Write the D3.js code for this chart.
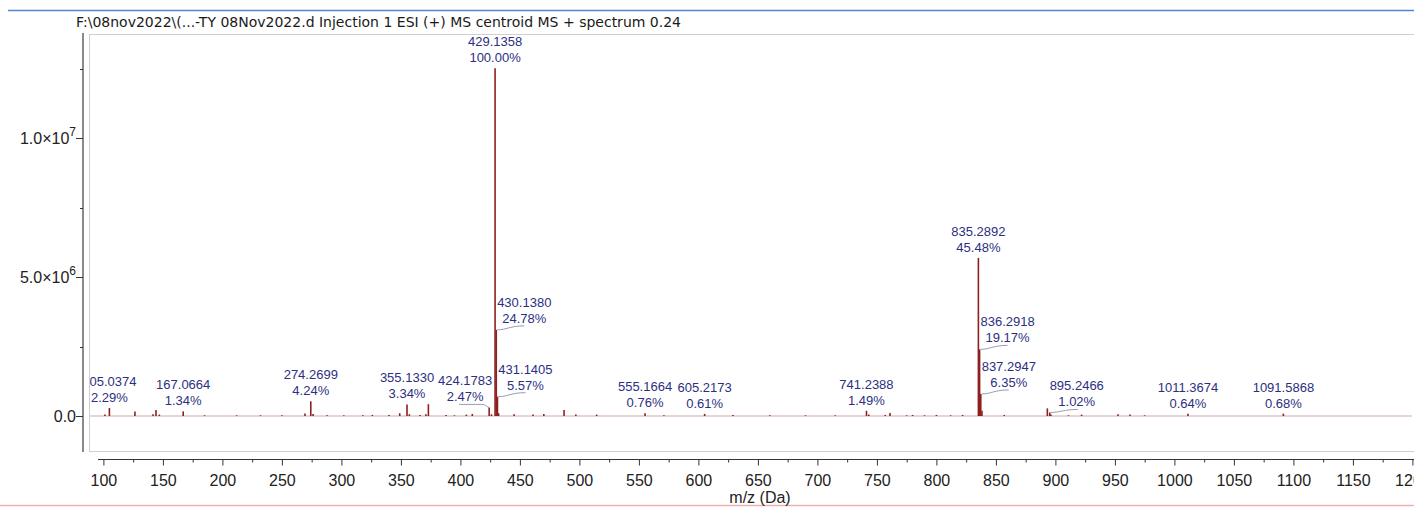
<!DOCTYPE html>
<html>
<head>
<meta charset="utf-8">
<script src="https://cdn.jsdelivr.net/npm/d3@7/dist/d3.min.js"></script>
<style>
  html, body { margin: 0; padding: 0; background: #fff; }
  svg { display: block; font-family: "Liberation Sans", Arial, sans-serif; }
</style>
</head>
<body>
<svg id="chart" width="1414" height="508"></svg>
<script>
// ---------------- data ----------------
const titleText = "F:\\08nov2022\\(...-TY 08Nov2022.d Injection 1 ESI (+) MS centroid MS + spectrum 0.24";
const xLabel = "m/z (Da)";
const basePeakIntensity = 1.252e7;

// all centroid peaks: m/z and relative abundance (% of base peak)
const peakMz = [101.3, 105.0374, 126.5, 141.7, 144.2, 147.0, 167.0664, 185.0, 212.0, 232.0, 250.0,
  269.4, 274.2699, 276.2, 288.0, 302.0, 318.0, 326.0, 340.0, 349.0, 355.1330, 357.1, 366.0, 371.0,
  373.1, 388.0, 395.0, 405.0, 410.0, 424.1783, 426.1, 429.1358, 430.1380, 431.1405, 432.1, 445.1,
  461.0, 470.1, 487.1, 497.0, 514.5, 555.1664, 571.0, 605.2173, 629.0, 660.0, 690.0, 715.0,
  741.2388, 743.2, 757.0, 761.0, 775.0, 780.0, 790.0, 800.0, 812.0, 822.0, 835.2892, 836.2918,
  837.2947, 838.3, 857.0, 893.24, 895.2466, 896.2, 911.0, 922.0, 952.6, 962.7, 975.0,
  1011.3674, 1091.5868];
const peakPct = [0.4, 2.29, 1.3, 0.5, 1.7, 0.4, 1.34, 0.2, 0.2, 0.2, 0.2,
  0.7, 4.24, 0.6, 0.2, 0.2, 0.2, 0.3, 0.3, 0.8, 3.34, 0.5, 0.3, 0.5,
  3.4, 0.3, 0.2, 0.4, 0.6, 2.47, 0.5, 100.0, 24.78, 5.57, 0.8, 0.5,
  0.4, 0.6, 1.7, 0.4, 0.4, 0.76, 0.2, 0.61, 0.3, 0.2, 0.2, 0.2,
  1.49, 0.4, 0.3, 0.9, 0.2, 0.3, 0.2, 0.3, 0.2, 0.3, 45.48, 19.17,
  6.35, 1.5, 0.3, 2.2, 1.02, 0.4, 0.2, 0.4, 0.5, 0.4, 0.2,
  0.64, 0.68];

// annotated peaks
const labelMz = ["105.0374", "167.0664", "274.2699", "355.1330", "424.1783", "429.1358", "430.1380",
  "431.1405", "555.1664", "605.2173", "741.2388", "835.2892", "836.2918", "837.2947", "895.2466",
  "1011.3674", "1091.5868"];
const labelPct = ["2.29%", "1.34%", "4.24%", "3.34%", "2.47%", "100.00%", "24.78%",
  "5.57%", "0.76%", "0.61%", "1.49%", "45.48%", "19.17%", "6.35%", "1.02%",
  "0.64%", "0.68%"];

const xTickValues = d3.range(100, 1201, 50);
const xMinorTickValues = d3.range(125, 1201, 50);
const yTickValues = [0, 5e6, 1e7];
const yTickMantissa = ["0.0", "5.0", "1.0"];
const yTickExponent = ["", "6", "7"];
const yMinorTickValues = [2.5e6, 7.5e6, 1.25e7];

// ---------------- layout (not data) ----------------
const plot = { left: 89, top: 34, right: 1420, bottom: 451 };
const labelNudge = { "424.1783": -24, "895.2466": 27 };   // horizontal shifts for crowded labels
const sideLabels = new Set(["430.1380", "431.1405", "836.2918", "837.2947"]); // isotope labels drawn at right of bar

const svg = d3.select("#chart");

const x = d3.scaleLinear().domain([100, 1200]).range([103.4, 1412.4]);
const y = d3.scaleLinear().domain([-1.26e6, 1.3756e7]).range([451, 34]);

// top blue rule & bottom red rule
svg.append("line").attr("x1", 8).attr("x2", 1414).attr("y1", 10.5).attr("y2", 10.5)
  .attr("stroke", "#4f86d6").attr("stroke-width", 1.5);
svg.append("line").attr("x1", 0).attr("x2", 1414).attr("y1", 505.5).attr("y2", 505.5)
  .attr("stroke", "#eeb0b0").attr("stroke-width", 1.5);

// title
svg.append("text").attr("x", 76).attr("y", 27).attr("font-size", 14).attr("fill", "#1a1a1a")
  .style("font-family", "'DejaVu Sans', Verdana, sans-serif")
  .text(titleText);

// plot frame
svg.append("rect").attr("x", plot.left + 0.5).attr("y", plot.top + 0.5)
  .attr("width", plot.right - plot.left).attr("height", plot.bottom - plot.top)
  .attr("fill", "#fff").attr("stroke", "#cfcfcf").attr("stroke-width", 1);

// y axis
svg.append("line").attr("x1", 83).attr("x2", 83).attr("y1", 33).attr("y2", 452)
  .attr("stroke", "#8a8a8a").attr("stroke-width", 2);
const yg = svg.append("g");
yTickValues.forEach((v, i) => {
  const ty = Math.round(y(v)) + 0.5;
  yg.append("line").attr("x1", 76).attr("x2", 83).attr("y1", ty).attr("y2", ty)
    .attr("stroke", "#333").attr("stroke-width", 1);
  const t = yg.append("text").attr("x", 76).attr("y", ty + 5.5).attr("text-anchor", "end")
    .attr("font-size", 16).attr("fill", "#222");
  if (yTickExponent[i]) {
    t.append("tspan").text(yTickMantissa[i] + "\u00d710");
    t.append("tspan").attr("dy", -8).attr("font-size", 12).text(yTickExponent[i]);
  } else {
    t.text(yTickMantissa[i]);
  }
});
yMinorTickValues.forEach(v => {
  const ty = Math.round(y(v)) + 0.5;
  yg.append("line").attr("x1", 80).attr("x2", 83).attr("y1", ty).attr("y2", ty)
    .attr("stroke", "#333").attr("stroke-width", 1);
});

// x axis
const xg = svg.append("g").attr("transform", "translate(0,459.5)");
xg.append("line").attr("x1", 98).attr("x2", 1414).attr("y1", 0).attr("y2", 0)
  .attr("stroke", "#333").attr("stroke-width", 1);
const xAxis = d3.axisBottom(x).tickValues(xTickValues).tickSize(6).tickSizeOuter(0).tickPadding(9)
  .tickFormat(d3.format("d"));
const xa = xg.append("g").call(xAxis).attr("font-family", null).attr("font-size", null);
xa.select(".domain").remove();
xa.selectAll(".tick line").attr("stroke", "#333");
xa.selectAll(".tick text").attr("font-size", 16).attr("fill", "#222");
const xm = xg.append("g").call(d3.axisBottom(x).tickValues(xMinorTickValues).tickSize(3).tickFormat(""));
xm.select(".domain").remove();
xm.selectAll(".tick line").attr("stroke", "#333");

svg.append("text").attr("x", 760).attr("y", 503).attr("text-anchor", "middle")
  .attr("font-size", 16).attr("fill", "#222").text(xLabel);

// plot area clip
svg.append("clipPath").attr("id", "clip").append("rect")
  .attr("x", plot.left + 1).attr("y", plot.top + 1)
  .attr("width", plot.right - plot.left).attr("height", plot.bottom - plot.top - 1);
const pg = svg.append("g").attr("clip-path", "url(#clip)");

// baseline
pg.append("line").attr("x1", plot.left).attr("x2", 1412).attr("y1", y(0)).attr("y2", y(0))
  .attr("stroke", "#cfa9a9").attr("stroke-width", 1);

// peaks
const peaks = peakMz.map((m, i) => ({ mz: m, intensity: peakPct[i] / 100 * basePeakIntensity }));
pg.selectAll("line.peak").data(peaks).join("line").attr("class", "peak")
  .attr("x1", d => x(d.mz)).attr("x2", d => x(d.mz))
  .attr("y1", y(0)).attr("y2", d => y(d.intensity))
  .attr("stroke", "#8e1f1f").attr("stroke-width", 1.6);

// annotations
const labels = labelMz.map((s, i) => ({
  mzText: s, pctText: labelPct[i], mz: +s,
  intensity: parseFloat(labelPct[i]) / 100 * basePeakIntensity
}));
const labelColor = "#2c2f7f";
const leaderColor = "#9a9ab4";
const lg = pg.append("g");
labels.forEach(d => {
  const px = x(d.mz), py = y(d.intensity);
  if (sideLabels.has(d.mzText)) {
    const b2 = py - 7, b1 = b2 - 16, cx = px + 28;
    lg.append("text").attr("x", cx).attr("y", b1).attr("text-anchor", "middle").attr("font-size", 13).attr("fill", labelColor).text(d.mzText);
    lg.append("text").attr("x", cx).attr("y", b2).attr("text-anchor", "middle").attr("font-size", 13).attr("fill", labelColor).text(d.pctText);
    lg.append("path")
      .attr("d", `M${px + 1},${py} C${px + 10},${py} ${px + 14},${py - 4} ${px + 28},${py - 4}`)
      .attr("fill", "none").attr("stroke", leaderColor).attr("stroke-width", 1);
  } else {
    const nudge = labelNudge[d.mzText] || 0;
    const cx = px + nudge;
    const b2 = Math.min(py - 6, y(0) - 8), b1 = b2 - 16;
    lg.append("text").attr("x", cx).attr("y", b1).attr("text-anchor", "middle").attr("font-size", 13)
      .attr("fill", labelColor).text(d.mzText);
    lg.append("text").attr("x", cx).attr("y", b2).attr("text-anchor", "middle").attr("font-size", 13)
      .attr("fill", labelColor).text(d.pctText);
    if (nudge) {
      const ly = b2 + 3;
      const path = nudge < 0
        ? `M${cx - 6},${ly} L${px - 8},${ly} C${px - 3},${ly} ${px - 2},${py} ${px},${py}`
        : `M${px + 1},${py} C${px + 10},${py} ${px + 14},${ly} ${px + 28},${ly}`;
      lg.append("path").attr("d", path).attr("fill", "none").attr("stroke", leaderColor).attr("stroke-width", 1);
    }
  }
});
</script>
</body>
</html>
